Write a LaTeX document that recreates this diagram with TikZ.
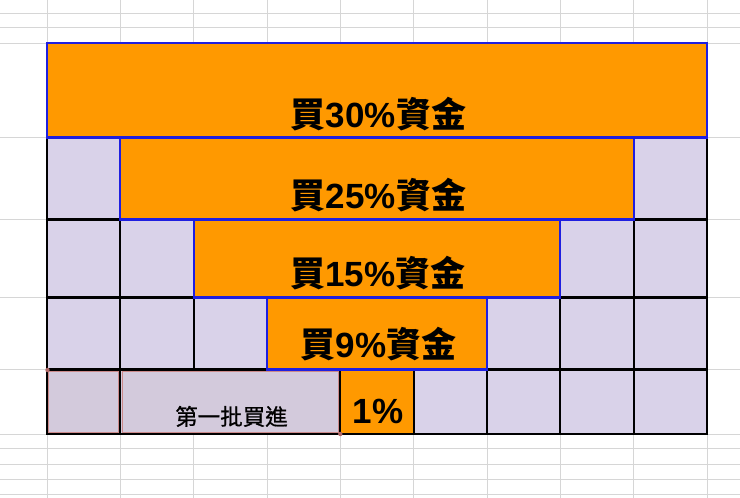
\documentclass[tikz,border=0pt]{standalone}
\usepackage{fontspec}
\newfontfamily\cjk{Noto Sans CJK TC}
\newfontfamily\cjkmed{Noto Sans CJK TC}[FakeBold=0.9]
\newfontfamily\latn{Liberation Sans}
\newcommand{\buyline}[1]{{\cjk 買}{\latn\bfseries #1\%}{\cjk 資金}}
\definecolor{gridgray}{HTML}{D6D6D6}
\definecolor{sheetorange}{HTML}{FF9900}
\definecolor{lav}{HTML}{D9D2E9}
\definecolor{lavsel}{HTML}{D3CADC}
\definecolor{bordblue}{HTML}{1F1FE0}
\definecolor{selred}{HTML}{CC8A8A}
\definecolor{seldot}{HTML}{B06868}
\begin{document}
\begin{tikzpicture}[x=1pt,y=-1pt,
  gridline/.style={draw=gridgray,line width=0.9pt},
  lavcell/.style={fill=lav,draw=black,line width=2.2pt},
  selcell/.style={fill=lavsel,draw=black,line width=2.2pt},
  orangeblock/.style={fill=sheetorange,draw=bordblue,line width=2.2pt},
  orangecell/.style={fill=sheetorange,draw=black,line width=2.2pt},
  seledge/.style={draw=selred,line width=0.8pt},
  bigtxt/.style={font=\cjk\bfseries\fontsize{35}{37}\selectfont,anchor=base,inner sep=0pt},
  smalltxt/.style={font=\cjkmed\fontsize{22.5}{24}\selectfont,anchor=base,inner sep=0pt}]
\useasboundingbox (0,0) rectangle (740,498);
\fill[white] (0,0) rectangle (740,498);
% columns and rows
\def\cA{47}\def\cB{120.3}\def\cC{193.7}\def\cD{267}\def\cE{340.3}
\def\cF{413.7}\def\cG{487}\def\cH{560.3}\def\cI{633.7}\def\cJ{707}
\def\rA{43}\def\rB{137.5}\def\rC{219.5}\def\rD{297.5}\def\rE{369.5}\def\rF{434}
% background spreadsheet grid
\foreach \x in {\cA,\cB,\cC,\cD,\cE,\cF,\cG,\cH,\cI,\cJ}
  \draw[gridline] (\x,0) -- (\x,498);
\foreach \y in {13.5,27.5,\rA,\rB,\rC,\rD,\rE,\rF,448.5,464,479,494}
  \draw[gridline] (0,\y) -- (740,\y);
% row 2 lavender cells
\draw[lavcell] (\cA,\rB) rectangle (\cB,\rC);
\draw[lavcell] (\cI,\rB) rectangle (\cJ,\rC);
% row 3
\draw[lavcell] (\cA,\rC) rectangle (\cB,\rD);
\draw[lavcell] (\cB,\rC) rectangle (\cC,\rD);
\draw[lavcell] (\cH,\rC) rectangle (\cI,\rD);
\draw[lavcell] (\cI,\rC) rectangle (\cJ,\rD);
% row 4
\draw[lavcell] (\cA,\rD) rectangle (\cB,\rE);
\draw[lavcell] (\cB,\rD) rectangle (\cC,\rE);
\draw[lavcell] (\cC,\rD) rectangle (\cD,\rE);
\draw[lavcell] (\cG,\rD) rectangle (\cH,\rE);
\draw[lavcell] (\cH,\rD) rectangle (\cI,\rE);
\draw[lavcell] (\cI,\rD) rectangle (\cJ,\rE);
% row 5
\draw[selcell] (\cA,\rE) rectangle (\cB,\rF);
\draw[selcell] (\cB,\rE) rectangle (\cE,\rF);
\draw[orangecell] (\cE,\rE) rectangle (\cF,\rF);
\draw[lavcell] (\cF,\rE) rectangle (\cG,\rF);
\draw[lavcell] (\cG,\rE) rectangle (\cH,\rF);
\draw[lavcell] (\cH,\rE) rectangle (\cI,\rF);
\draw[lavcell] (\cI,\rE) rectangle (\cJ,\rF);
% selection highlight
\draw[seledge] (\cA+1.6,\rE+1.4) rectangle (\cB-1.6,\rF-1.6);
\draw[seledge] (\cB+1.6,\rE+1.4) rectangle (\cE-1.6,\rF-1.6);
% orange blocks
\draw[orangeblock] (\cA,\rA) rectangle (\cJ,\rB);
\draw[orangeblock] (\cB,\rB) rectangle (\cI,\rC);
\draw[orangeblock] (\cC,\rC) rectangle (\cH,\rD);
\draw[orangeblock] (\cD,\rD) rectangle (\cG,\rE);
\fill[seldot] (\cA+0.5,\rE+0.5) circle (2.2);
\fill[seldot] (\cE,\rF) circle (2.2);
% labels
\node[bigtxt] (t30) at (378.5,127) {\buyline{30}};
\node[bigtxt] (t25) at (378.5,208) {\buyline{25}};
\node[bigtxt] (t15) at (378,286) {\buyline{15}};
\node[bigtxt] (t9) at (378.5,357) {\buyline{9}};
\node[bigtxt] (t1) at (378,423) {\latn\bfseries 1\%};
\node[smalltxt] (tfirst) at (231.5,425) {第一批買進};
\end{tikzpicture}
\end{document}
